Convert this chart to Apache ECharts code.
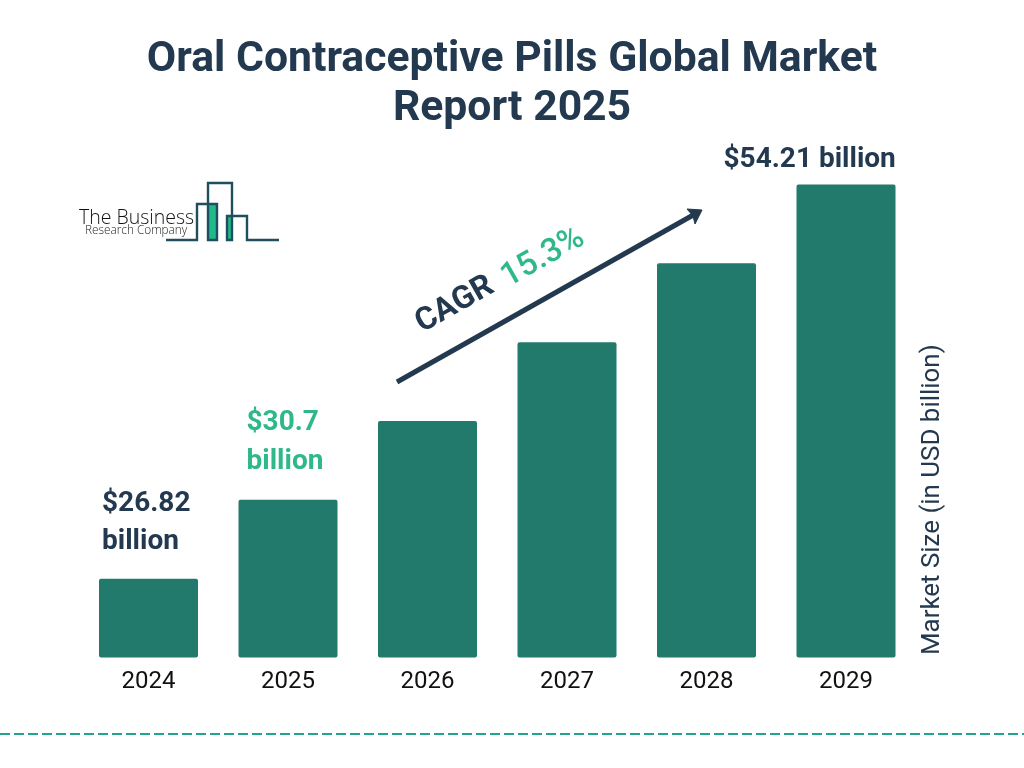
<!DOCTYPE html>
<html>
<head>
<meta charset="utf-8">
<style>
  html, body { margin: 0; padding: 0; background: #fff; }
  #chart { width: 1024px; height: 768px; }
</style>
<script src="https://cdn.jsdelivr.net/npm/echarts@6/dist/echarts.min.js"></script>
</head>
<body>
<div id="chart"></div>
<script>
const years = ['2024', '2025', '2026', '2027', '2028', '2029'];
// the bars are drawn as even steps in the picture, not to the scale of the labels
const barLevels = [1, 2, 3, 4, 5, 6];
const valueLabels = ['$26.82\nbillion', '$30.7\nbillion', '', '', '', '$54.21 billion'];
const labelColors = ['#23394f', '#2fb98a', '#23394f', '#23394f', '#23394f', '#23394f'];
const labelOffsets = [[3, -94], [8, -96], [0, 0], [0, 0], [0, 0], [-73, -44]];

const navy = '#23394f';
const green = '#2fb98a';
const logoLine = '#1f4e5f';

const chart = echarts.init(document.getElementById('chart'));

chart.setOption({
  animation: false,
  backgroundColor: '#fff',
  textStyle: { fontFamily: 'Roboto' },
  title: {
    text: 'Oral Contraceptive Pills Global Market\nReport 2025',
    left: 'center',
    top: 31,
    textStyle: { fontFamily: 'Roboto', fontSize: 42.7, fontWeight: 'bold', color: navy, lineHeight: 49 }
  },
  grid: { left: 78.75, width: 837, top: 184.5, height: 473 },
  xAxis: {
    type: 'category',
    data: years,
    axisLine: { show: false },
    axisTick: { show: false },
    axisLabel: { fontFamily: 'Roboto', fontSize: 24, color: '#111', margin: 12 }
  },
  yAxis: { type: 'value', min: 0, max: 6, show: false },
  series: [{
    type: 'bar',
    barWidth: 99,
    itemStyle: { color: '#217a6b', borderRadius: 2 },
    data: barLevels.map((v, i) => ({
      value: v,
      label: {
        show: valueLabels[i] !== '',
        formatter: valueLabels[i],
        position: labelOffsets[i],
        align: 'left',
        verticalAlign: 'top',
        fontFamily: 'Roboto',
        fontSize: 28,
        fontWeight: 'bold',
        lineHeight: 38.5,
        color: labelColors[i]
      }
    }))
  }],
  graphic: [
    // growth arrow
    { type: 'line', shape: { x1: 397, y1: 382, x2: 695, y2: 214 }, style: { stroke: navy, lineWidth: 5 } },
    { type: 'polygon', shape: { points: [[702, 210], [687, 209], [693, 216], [695, 224]] }, style: { fill: navy, stroke: navy, lineWidth: 1, lineJoin: 'round' } },
    { type: 'text', x: 455, y: 305, rotation: 29.4 * Math.PI / 180, style: { text: 'CAGR', fontFamily: 'Roboto', fontSize: 32, fontWeight: 'bold', fill: navy, align: 'center', verticalAlign: 'middle' } },
    { type: 'text', x: 543, y: 258, rotation: 29.4 * Math.PI / 180, style: { text: '15.3%', fontFamily: 'Roboto', fontSize: 33, fontWeight: 500, fill: green, align: 'center', verticalAlign: 'middle' } },
    // axis title on the right
    { type: 'text', x: 933, y: 655, rotation: Math.PI / 2, style: { text: 'Market Size (in USD billion)', fontFamily: 'Roboto', fontSize: 25.9, fill: navy, align: 'left', verticalAlign: 'middle' } },
    // logo
    { type: 'rect', shape: { x: 208, y: 204, width: 9, height: 36 }, style: { fill: '#1fb98a' } },
    { type: 'rect', shape: { x: 227, y: 216, width: 5, height: 24 }, style: { fill: '#1fb98a' } },
    {
      type: 'polyline',
      shape: { points: [[166, 240], [197, 240], [197, 204], [217, 204], [217, 240], [208, 240], [208, 183], [232, 183], [232, 240], [227, 240], [227, 216], [247, 216], [247, 240], [279, 240]] },
      style: { stroke: logoLine, lineWidth: 2.4, fill: 'none' }
    },
    { type: 'text', x: 79, y: 218, style: { text: 'The Business', fontFamily: 'Open Sans', fontSize: 19.5, fontWeight: 300, fill: '#111', verticalAlign: 'middle' } },
    { type: 'text', x: 85, y: 231, style: { text: 'Research Company', fontFamily: 'Open Sans', fontSize: 11.8, fontWeight: 300, fill: '#222', verticalAlign: 'middle' } },
    // footer rule
    { type: 'line', shape: { x1: 0, y1: 734, x2: 1024, y2: 734 }, style: { stroke: '#1fa58f', lineWidth: 2, lineDash: [10, 4] } }
  ]
});
</script>
</body>
</html>
